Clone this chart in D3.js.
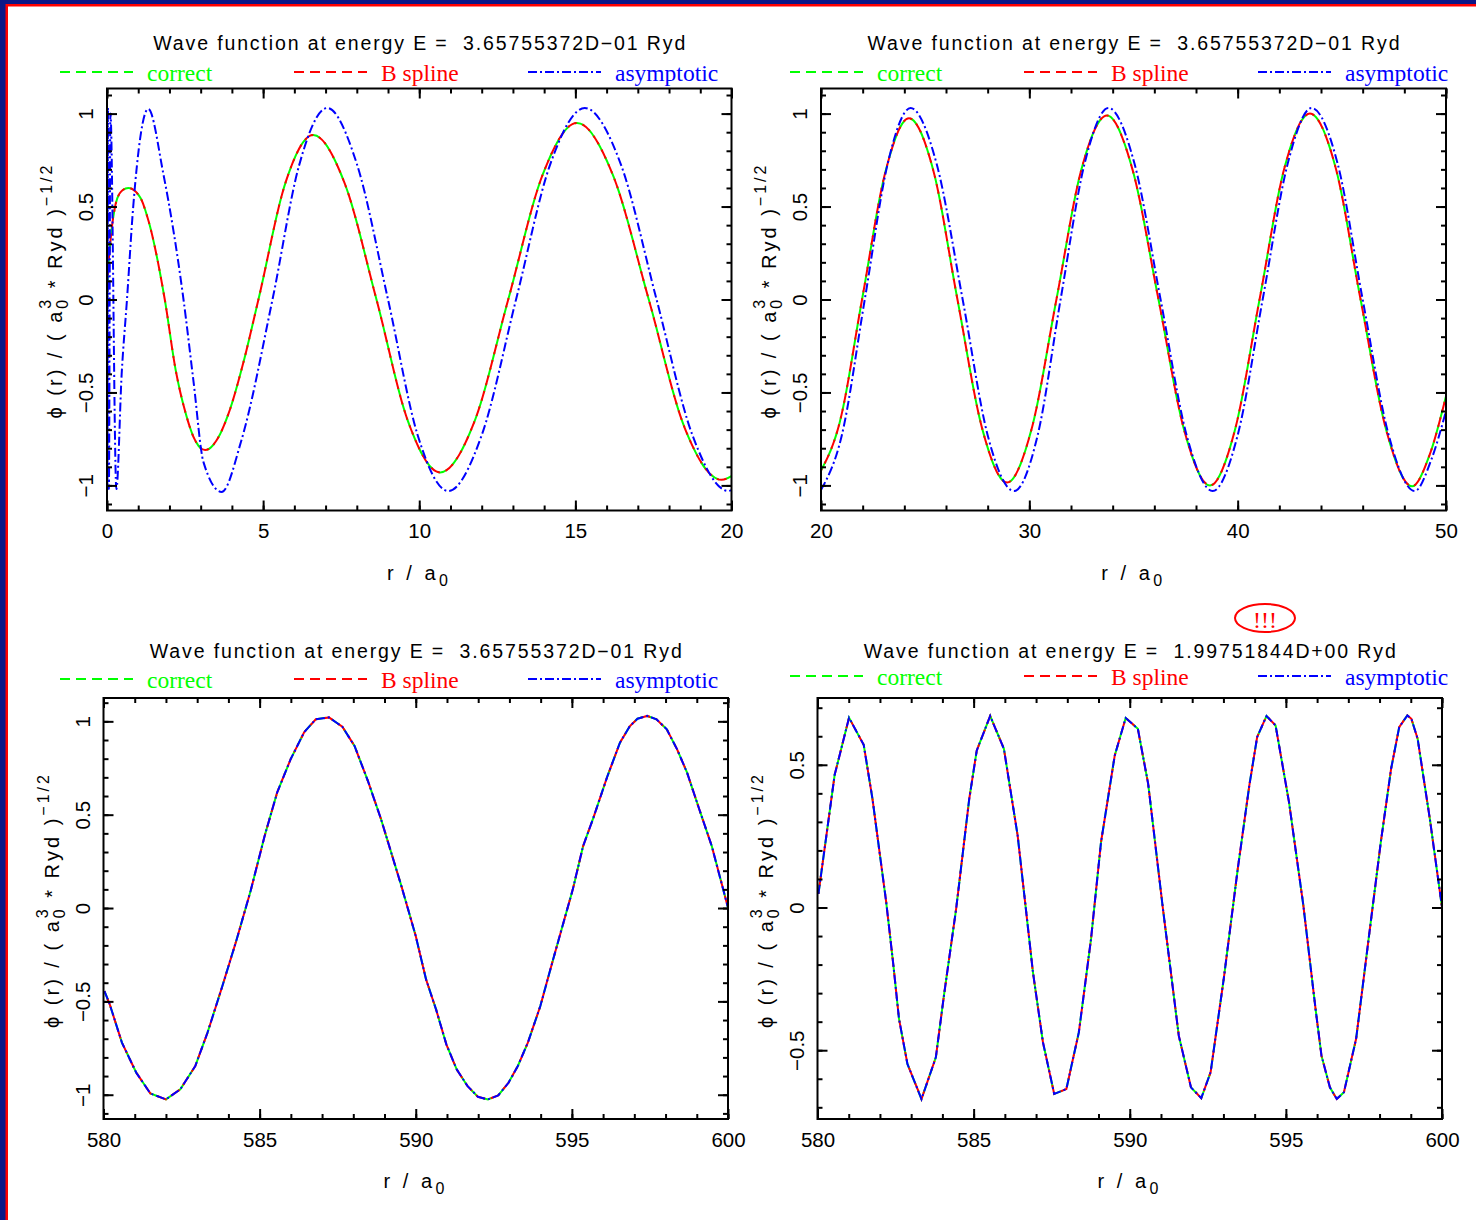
<!DOCTYPE html>
<html>
<head>
<meta charset="utf-8">
<script src="https://cdn.jsdelivr.net/npm/d3@7"></script>
<style>
  body { margin: 0; background: #fff; }
  svg text { font-family: "Liberation Sans", Arial, sans-serif; }
</style>
</head>
<body>
<svg id="chart" width="1476" height="1220"></svg>
<script>
// energies shown in the titles
var ENERGY_LOW = '3.65755372D\u221201';
var ENERGY_HIGH = '1.99751844D+00';

// tick values / labels
var xTicksNear = [0, 5, 10, 15, 20];
var xTicksMid = [20, 30, 40, 50];
var xTicksFar = [580, 585, 590, 595, 600];
var yTicksFull = [-1, -0.5, 0, 0.5, 1];
var yLabelsFull = ['\u22121', '\u22120.5', '0', '0.5', '1'];
var yTicksHigh = [-0.5, 0, 0.5];
var yLabelsHigh = ['\u22120.5', '0', '0.5'];

// legend entries
var legendNames = ['correct', 'B spline', 'asymptotic'];

// r = 0..20, E = 0.3658 Ryd  [r, phi]
var tlCorrect = [[0,0],[0.04,0.16],[0.12,0.33],[0.26,0.5],[0.45,0.58],[0.68,0.6],[1.06,0.55],[1.3,0.44],
  [1.85,0],[2.2,-0.38],[2.5,-0.6],[2.8,-0.75],[3.14,-0.81],[3.5,-0.76],[3.9,-0.61],[4.35,-0.35],[4.85,0],
  [5.72,0.63],[6.6,0.885],[7.6,0.63],[8.63,0],[9.65,-0.66],[10.67,-0.93],[11.76,-0.66],[12.85,0],
  [13.95,0.67],[15.05,0.95],[16.2,0.67],[17.35,0],[18.5,-0.69],[19.68,-0.97],[20,-0.95]];
var tlBspline = tlCorrect.map(function(d) { return [d[0], d[1]]; });
var tlAsym = [[0,1.03],[0.012,-1.02],[0.03,1.03],[0.06,-1.02],[0.11,1.0],[0.3,-1.02],[0.47,-0.4],[0.64,0],
  [0.84,0.5],[1.32,1.025],[1.8,0.68],[2.45,0],[2.77,-0.44],[3.09,-0.875],[3.67,-1.035],[4.3,-0.76],[5.3,0],
  [6.15,0.72],[7.05,1.03],[8.0,0.73],[9.0,0],[9.95,-0.73],[10.93,-1.03],[12.0,-0.73],[13.1,0],[14.2,0.73],
  [15.3,1.03],[16.45,0.73],[17.6,0],[18.75,-0.73],[19.9,-1.03],[20,-1.025]];

// r = 20..50, E = 0.3658 Ryd
var trCorrect = [[20,-0.92],[20.9,-0.66],[21.97,0],[23.1,0.69],[24.22,0.975],[25.4,0.69],[26.55,0],
  [27.75,-0.7],[28.93,-0.985],[30.1,-0.7],[31.3,0],[32.5,0.7],[33.73,0.99],[34.95,0.7],[36.2,0],
  [37.45,-0.71],[38.67,-1.0],[39.85,-0.71],[41.05,0],[42.25,0.71],[43.47,1.0],[44.7,0.71],[45.9,0],
  [47.15,-0.71],[48.37,-1.005],[49.2,-0.84],[50,-0.52]];
var trBspline = trCorrect.map(function(d) { return [d[0], d[1]]; });
var trAsym = [[20,-1.025],[21.0,-0.73],[22.1,0],[23.2,0.73],[24.3,1.03],[25.55,0.73],[26.8,0],[28.0,-0.73],
  [29.27,-1.03],[30.4,-0.73],[31.5,0],[32.65,0.73],[33.8,1.03],[35.05,0.73],[36.3,0],[37.55,-0.73],
  [38.8,-1.03],[40.0,-0.73],[41.2,0],[42.4,0.73],[43.55,1.03],[44.8,0.73],[46.0,0],[47.25,-0.73],
  [48.5,-1.03],[49.3,-0.86],[50,-0.6]];

// r = 580..600, E = 0.3658 Ryd (all three coincide)
var blCorrect = [[580.03,-0.445],[580.2,-0.516],[580.59,-0.721],[581.05,-0.882],[581.5,-0.993],[582.0,-1.025],
  [582.46,-0.971],[582.94,-0.846],[583.33,-0.668],[583.79,-0.427],[584.25,-0.177],[584.71,0.091],
  [585.16,0.386],[585.56,0.618],[585.99,0.796],[586.43,0.943],[586.8,1.011],[587.22,1.021],[587.65,0.971],
  [588.04,0.868],[588.47,0.68],[588.89,0.475],[589.54,0.118],[590.0,-0.15],[590.33,-0.382],[590.65,-0.543],
  [590.98,-0.73],[591.31,-0.864],[591.66,-0.954],[591.99,-1.011],[592.31,-1.025],[592.64,-1.004],
  [592.97,-0.936],[593.27,-0.846],[593.59,-0.721],[593.99,-0.525],[594.31,-0.329],[594.64,-0.132],
  [595.03,0.1],[595.36,0.332],[595.69,0.484],[596.14,0.707],[596.54,0.886],[596.86,0.975],[597.1,1.014],
  [597.41,1.029],[597.71,1.011],[598.04,0.957],[598.37,0.85],[598.69,0.725],[599.08,0.529],[599.48,0.332],
  [600.0,0.002]];
var blBspline = blCorrect;
var blAsym = blCorrect;

// r = 580..600, E = 1.9975 Ryd (all three coincide)
var brCorrect = [[580.03,0.048],[580.55,0.465],[581.01,0.665],[581.48,0.57],[581.76,0.381],[582.2,0.019],
  [582.42,-0.192],[582.61,-0.39],[582.88,-0.548],[583.33,-0.671],[583.79,-0.525],[584.05,-0.308],
  [584.44,-0.005],[584.86,0.381],[585.1,0.55],[585.53,0.671],[585.97,0.556],[586.41,0.252],[586.9,-0.227],
  [587.22,-0.472],[587.58,-0.653],[587.97,-0.636],[588.37,-0.437],[588.76,-0.11],[589.08,0.229],
  [589.52,0.533],[589.87,0.664],[590.26,0.626],[590.59,0.433],[591.05,0.007],[591.57,-0.449],
  [591.96,-0.63],[592.29,-0.668],[592.59,-0.577],[593.01,-0.25],[593.46,0.136],[593.83,0.428],
  [594.08,0.597],[594.38,0.671],[594.67,0.638],[595.1,0.369],[595.56,0.007],[595.95,-0.355],
  [596.14,-0.519],[596.41,-0.63],[596.63,-0.671],[596.86,-0.647],[597.25,-0.46],[597.65,-0.11],
  [598.04,0.229],[598.37,0.486],[598.63,0.632],[598.89,0.673],[599.02,0.661],[599.22,0.591],
  [599.61,0.311],[600.0,0.001]];
var brBspline = brCorrect;
var brAsym = brCorrect;

var COLORS = { correct: '#00ff00', bspline: '#ff0000', asym: '#0000ff' };
var DASH = { correct: '10,6', bspline: '10,6', asym: '9,3,2,3' };

var panels = [
  { left: 107, right: 731.5, top: 88.5, bottom: 510.5, xDom: [0, 20], yDom: [-1.135, 1.135],
    xMajor: xTicksNear, xMinorStep: 1, yMajor: yTicksFull, yLabels: yLabelsFull,
    energy: ENERGY_LOW, titleY: 49.5, legendX: 60, legendY: 72, smooth: true,
    data: [tlCorrect, tlBspline, tlAsym] },
  { left: 821, right: 1446, top: 88.5, bottom: 510.5, xDom: [20, 50], yDom: [-1.135, 1.135],
    xMajor: xTicksMid, xMinorStep: 2, yMajor: yTicksFull, yLabels: yLabelsFull,
    energy: ENERGY_LOW, titleY: 49.5, legendX: 790, legendY: 72, smooth: true,
    data: [trCorrect, trBspline, trAsym] },
  { left: 103.5, right: 728, top: 698, bottom: 1119, xDom: [580, 600], yDom: [-1.13, 1.125],
    xMajor: xTicksFar, xMinorStep: 1, yMajor: yTicksFull, yLabels: yLabelsFull,
    energy: ENERGY_LOW, titleY: 658, legendX: 60, legendY: 679, smooth: false,
    data: [blCorrect, blBspline, blAsym] },
  { left: 817.5, right: 1442, top: 698, bottom: 1119, xDom: [580, 600], yDom: [-0.741, 0.734],
    xMajor: xTicksFar, xMinorStep: 1, yMajor: yTicksHigh, yLabels: yLabelsHigh,
    energy: ENERGY_HIGH, titleY: 658, legendX: 790, legendY: 676, smooth: false,
    data: [brCorrect, brBspline, brAsym] }
];

var svg = d3.select('#chart');

// page border (navy with red inner line, top and left)
svg.append('rect').attr('x', 0).attr('y', 0).attr('width', 1476).attr('height', 6.5).attr('fill', '#ff0000');
svg.append('rect').attr('x', 0).attr('y', 0).attr('width', 8).attr('height', 1220).attr('fill', '#ff0000');
svg.append('rect').attr('x', 0).attr('y', 0).attr('width', 1476).attr('height', 4).attr('fill', '#0d1787');
svg.append('rect').attr('x', 0).attr('y', 0).attr('width', 5.5).attr('height', 1220).attr('fill', '#0d1787');

var keys = ['correct', 'bspline', 'asym'];

panels.forEach(function(p, pi) {
  var x = d3.scaleLinear().domain(p.xDom).range([p.left, p.right]);
  var y = d3.scaleLinear().domain(p.yDom).range([p.bottom, p.top]);
  var w = p.right - p.left, h = p.bottom - p.top;
  var cx = (p.left + p.right) / 2;

  var g = svg.append('g');

  // title
  g.append('text')
    .attr('x', cx).attr('y', p.titleY)
    .attr('text-anchor', 'middle')
    .attr('font-size', 19.5)
    .attr('textLength', 532).attr('lengthAdjust', 'spacing')
    .style('white-space', 'pre')
    .text('Wave function at energy E =  ' + p.energy + ' Ryd');

  // legend
  keys.forEach(function(k, i) {
    var lx = p.legendX + i * 234;
    g.append('line')
      .attr('x1', lx).attr('x2', lx + 73)
      .attr('y1', p.legendY).attr('y2', p.legendY)
      .attr('stroke', COLORS[k]).attr('stroke-width', 2)
      .attr('stroke-dasharray', DASH[k]);
    g.append('text')
      .attr('x', lx + 87).attr('y', p.legendY + 9)
      .attr('fill', COLORS[k])
      .style('font-family', '"Liberation Serif", "Times New Roman", serif')
      .attr('font-size', 23.5)
      .text(legendNames[i]);
  });

  // curves
  var clipId = 'clip' + pi;
  svg.append('clipPath').attr('id', clipId)
    .append('rect').attr('x', p.left).attr('y', p.top).attr('width', w).attr('height', h);

  var line = d3.line()
    .x(function(d) { return x(d[0]); })
    .y(function(d) { return y(d[1]); })
    .curve(p.smooth ? d3.curveMonotoneX : d3.curveLinear);

  var cg = g.append('g').attr('clip-path', 'url(#' + clipId + ')');
  keys.forEach(function(k, i) {
    cg.append('path')
      .datum(p.data[i])
      .attr('fill', 'none')
      .attr('stroke', COLORS[k])
      .attr('stroke-width', 2)
      .attr('stroke-dasharray', DASH[k])
      .attr('stroke-dashoffset', k == 'bspline' ? 8 : 0)
      .attr('d', line);
  });

  // axes: ticks inside the frame on all four sides
  var xMinor = d3.range(p.xDom[0], p.xDom[1] + 0.001, p.xMinorStep);
  var yMinor = d3.range(Math.ceil(p.yDom[0] * 10), Math.floor(p.yDom[1] * 10) + 1).map(function(v) { return v / 10; });

  function clean(sel) {
    sel.select('.domain').remove();
    sel.selectAll('.tick line').attr('stroke', '#000').attr('stroke-width', 2);
  }

  g.append('g').attr('transform', 'translate(0,' + p.bottom + ')')
    .call(d3.axisBottom(x).tickValues(xMinor).tickSize(-5).tickFormat('')).call(clean);
  g.append('g').attr('transform', 'translate(0,' + p.top + ')')
    .call(d3.axisTop(x).tickValues(xMinor).tickSize(-5).tickFormat('')).call(clean);
  g.append('g').attr('transform', 'translate(0,' + p.top + ')')
    .call(d3.axisTop(x).tickValues(p.xMajor).tickSize(-10).tickFormat('')).call(clean);
  var xb = g.append('g').attr('transform', 'translate(0,' + p.bottom + ')')
    .call(d3.axisBottom(x).tickValues(p.xMajor).tickSize(-10).tickPadding(13).tickFormat(d3.format('d')))
    .call(clean);
  xb.selectAll('.tick text').attr('font-size', 20.5).attr('fill', '#000')
    .style('font-family', '"Liberation Sans", Arial, sans-serif');

  g.append('g').attr('transform', 'translate(' + p.left + ',0)')
    .call(d3.axisLeft(y).tickValues(yMinor).tickSize(-5).tickFormat('')).call(clean);
  g.append('g').attr('transform', 'translate(' + p.right + ',0)')
    .call(d3.axisRight(y).tickValues(yMinor).tickSize(-5).tickFormat('')).call(clean);
  g.append('g').attr('transform', 'translate(' + p.right + ',0)')
    .call(d3.axisRight(y).tickValues(p.yMajor).tickSize(-10).tickFormat('')).call(clean);
  var yl = g.append('g').attr('transform', 'translate(' + p.left + ',0)')
    .call(d3.axisLeft(y).tickValues(p.yMajor).tickSize(-10)
      .tickFormat(function(d, i) { return p.yLabels[i]; }))
    .call(clean);
  yl.selectAll('.tick text')
    .attr('transform', 'rotate(-90)')
    .attr('x', 0).attr('y', -21).attr('dy', '0.35em')
    .attr('text-anchor', 'middle')
    .attr('font-size', 20.5).attr('fill', '#000')
    .style('font-family', '"Liberation Sans", Arial, sans-serif');

  // frame
  g.append('rect')
    .attr('x', p.left).attr('y', p.top).attr('width', w).attr('height', h)
    .attr('fill', 'none').attr('stroke', '#000').attr('stroke-width', 2);

  // x axis label
  var xt = g.append('text')
    .attr('x', cx).attr('y', p.bottom + 69)
    .attr('text-anchor', 'middle').attr('font-size', 20)
    .style('letter-spacing', '3.5px').style('white-space', 'pre');
  xt.append('tspan').text('r / a');
  xt.append('tspan').attr('font-size', 16).attr('dy', 6).text('0');

  // y axis label
  var yt = g.append('text')
    .attr('transform', 'translate(' + (p.left - 45) + ',' + (p.top + 202) + ') rotate(-90)')
    .attr('text-anchor', 'middle').attr('font-size', 20)
    .style('letter-spacing', '3px').style('white-space', 'pre');
  yt.append('tspan').text('\u03d5 (r) / ( a');
  yt.append('tspan').attr('font-size', 16).attr('dy', 6).text('0');
  yt.append('tspan').attr('font-size', 16).attr('dx', -12).attr('dy', -17).text('3');
  yt.append('tspan').attr('dy', 11).text(' * Ryd )');
  yt.append('tspan').attr('font-size', 16).attr('dy', -10).text('\u22121/2');
});

// warning mark over the high-energy title
svg.append('ellipse')
  .attr('cx', 1265).attr('cy', 618).attr('rx', 30).attr('ry', 14)
  .attr('fill', 'none').attr('stroke', '#ff0000').attr('stroke-width', 2);
svg.append('text')
  .attr('x', 1265).attr('y', 628).attr('text-anchor', 'middle')
  .attr('fill', '#ff0000').attr('font-size', 24)
  .style('font-family', '"Liberation Serif", "Times New Roman", serif')
  .text('!!!');
</script>
</body>
</html>
